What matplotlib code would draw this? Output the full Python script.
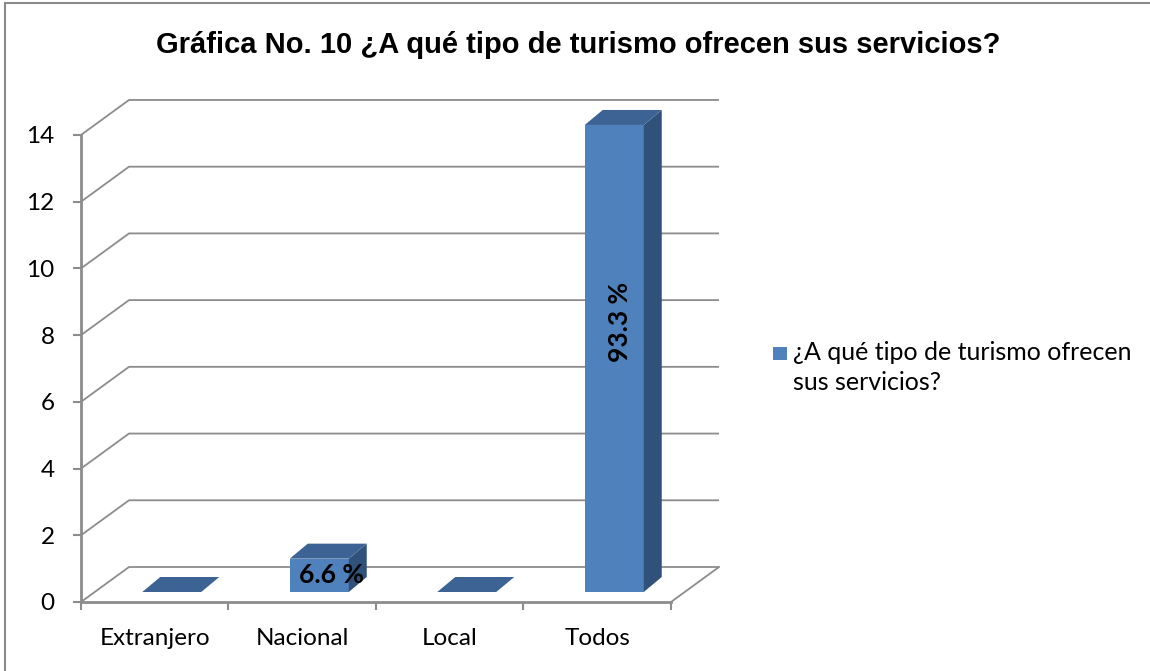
import matplotlib
matplotlib.use("Agg")
import matplotlib.pyplot as plt
from matplotlib.patches import Polygon, Rectangle

categories = ["Extranjero", "Nacional", "Local", "Todos"]
values = [0, 1, 0, 14]
bar_labels = ["", "6.6 %", "", "93.3 %"]
yticks = [0, 2, 4, 6, 8, 10, 12, 14]
title = "Gráfica No. 10 ¿A qué tipo de turismo ofrecen sus servicios?"
legend_lines = ["¿A qué tipo de turismo ofrecen", "sus servicios?"]

W, H = 1150, 671
fig = plt.figure(figsize=(W / 100, H / 100), dpi=100)

# pixel geometry of the front plane
x0px, y0px = 81, 602
ux, uy = 147.5, 33.36
right_px, top_px = 740, 90
ax = fig.add_axes([x0px / W, (H - y0px) / H, (right_px - x0px) / W, (y0px - top_px) / H])
ax.set_xlim(0, (right_px - x0px) / ux)
ax.set_ylim(0, (y0px - top_px) / uy)

# oblique depth offsets in data units
DX = 48 / ux
DY = 35 / uy
n = len(categories)
grid_c = "#8c8c8c"

for v in yticks:
    ax.plot([0, DX, n + DX], [v, v + DY, v + DY], color=grid_c, lw=1.3, solid_capstyle="butt", zorder=1)
ax.plot([n, n + DX], [0, DY], color=grid_c, lw=1.3, zorder=1)

w = 0.4
fx, fy = 17 / ux, 10 / uy          # front face offset from front plane
bdx, bdy = 18 / ux, 15 / uy        # bar depth
c_front, c_top, c_side = "#4F81BD", "#3C6394", "#30527A"
FS = 17.5
for i, v in enumerate(values):
    xl = i + 0.5 - w / 2 + fx
    xr = xl + w
    if v > 0:
        ax.add_patch(Rectangle((xl, fy), w, v, facecolor=c_front, edgecolor="none", zorder=3))
        ax.add_patch(Polygon([(xr, fy), (xr + bdx, fy + bdy), (xr + bdx, v + fy + bdy), (xr, v + fy)],
                             closed=True, facecolor=c_side, edgecolor="none", zorder=3))
    ax.add_patch(Polygon([(xl, v + fy), (xr, v + fy), (xr + bdx, v + fy + bdy), (xl + bdx, v + fy + bdy)],
                         closed=True, facecolor=c_top, edgecolor="none", zorder=3))
    lab = bar_labels[i]
    if lab:
        cx = xl + w / 2 + bdx / 2
        if v >= 5:
            ax.text(cx - 0.02, fy + v * 0.578, lab, rotation=90, ha="center", va="center",
                    fontsize=19, fontweight="bold", family="Lato", color="black", zorder=5)
        else:
            ax.text(cx + 0.02, fy + v * 0.5, lab, ha="center", va="center",
                    fontsize=19, fontweight="bold", family="Lato", color="black", zorder=5)

for s in ["top", "right"]:
    ax.spines[s].set_visible(False)
ax.spines["left"].set_bounds(0, 14)
ax.spines["bottom"].set_bounds(0, n)
for s in ["left", "bottom"]:
    ax.spines[s].set_color(grid_c)
    ax.spines[s].set_linewidth(2.0)
    ax.spines[s].set_zorder(2)
ax.set_yticks(yticks)
ax.set_yticklabels([str(t) for t in yticks], family="Lato", fontsize=FS)
ax.tick_params(axis="y", direction="out", length=6, width=1.5, color=grid_c, pad=13)
ax.set_xticks(range(n + 1))
ax.set_xticklabels([""] * (n + 1))
ax.tick_params(axis="x", which="major", direction="out", length=6, width=1.5, color=grid_c)
ax.set_xticks([i + 0.5 for i in range(n)], minor=True)
ax.set_xticklabels(categories, minor=True, family="Lato", fontsize=FS)
ax.tick_params(axis="x", which="minor", length=0, pad=19)
ax.patch.set_alpha(0)

fig.text(578 / W, 1 - 45 / H, title, ha="center", va="center", fontsize=21,
         fontweight="bold", family="Liberation Sans")

# legend
fig.patches.append(Rectangle((773 / W, 1 - 360 / H), 14 / W, 13 / H, transform=fig.transFigure,
                             facecolor=c_front, edgecolor="none"))
fig.text(793 / W, 1 - 353 / H, legend_lines[0], ha="left", va="center", fontsize=18, family="Lato")
fig.text(793 / W, 1 - 383 / H, legend_lines[1], ha="left", va="center", fontsize=18, family="Lato")

fig.patches.append(Rectangle((5 / W, -0.1), 1.2, 1 - 3 / H + 0.1, transform=fig.transFigure,
                             facecolor="none", edgecolor="#8a8a8a", lw=1.5))

fig.savefig("out.png", dpi=100)
